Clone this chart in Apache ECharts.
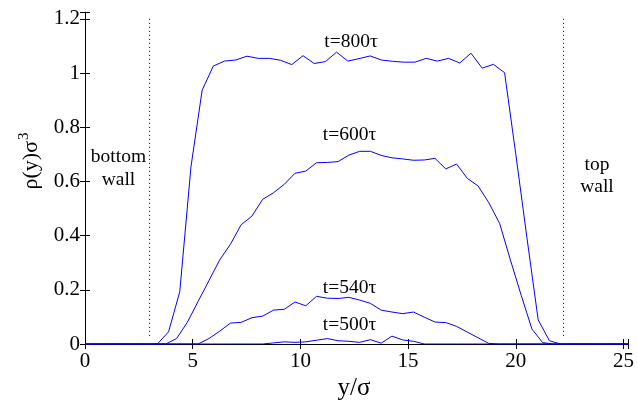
<!DOCTYPE html>
<html>
<head>
<meta charset="utf-8">
<script src="https://cdn.jsdelivr.net/npm/echarts@6/dist/echarts.min.js"></script>
<style>
  html, body { margin: 0; padding: 0; background: #fff; }
  #chart { width: 637px; height: 401px; }
</style>
</head>
<body>
<div id="chart"></div>
<script>
// Density profiles rho(y) across the channel at several times.
// Positions (in units of sigma) at which the profile at t=800 tau was sampled
const pos800 = [0, 0.24, 0.76, 1.28, 1.80, 2.32, 2.84, 3.36, 3.88, 4.40, 4.92, 5.44, 5.96, 6.48,
  7.00, 7.52, 8.04, 8.56, 9.08, 9.60, 10.12, 10.64, 11.16, 11.68, 12.20, 12.72, 13.24, 13.76,
  14.28, 14.80, 15.32, 15.84, 16.36, 16.88, 17.40, 17.92, 18.44, 18.96, 19.48, 20.00, 20.52,
  21.04, 21.56, 22.08, 22.60, 23.12, 23.64, 24.16, 24.68, 25.20];
const rho800 = [0, 0, 0, 0, 0, 0, 0, 0,
  0.045, 0.193, 0.654, 0.937, 1.026, 1.044, 1.048, 1.062, 1.054, 1.054,
  1.047, 1.031, 1.064, 1.035, 1.042, 1.077, 1.044, 1.053, 1.063, 1.048,
  1.043, 1.040, 1.040, 1.054, 1.044, 1.054, 1.037, 1.073, 1.018, 1.032,
  1.001, 0.700, 0.390, 0.089, 0.012,
  0, 0, 0, 0, 0, 0, 0];

// Positions shared by the t=600, 540 and 500 tau profiles
const posB = [0, 0.25, 0.75, 1.25, 1.75, 2.25, 2.75, 3.25, 3.75, 4.25, 4.75, 5.25, 5.75, 6.25,
  6.75, 7.25, 7.75, 8.25, 8.75, 9.25, 9.75, 10.25, 10.75, 11.25, 11.75, 12.25, 12.75, 13.25,
  13.75, 14.25, 14.75, 15.25, 15.75, 16.25, 16.75, 17.25, 17.75, 18.25, 18.75, 19.25, 19.75,
  20.25, 20.75, 21.25, 21.75, 22.25, 22.75, 23.25, 23.75, 24.25, 24.75, 25.20];
const rho600 = [0, 0, 0, 0, 0, 0, 0, 0, 0,
  0.020, 0.080, 0.157, 0.233, 0.310, 0.368, 0.440, 0.472, 0.534, 0.558,
  0.589, 0.630, 0.638, 0.669, 0.670, 0.673, 0.697, 0.711, 0.711, 0.696,
  0.687, 0.683, 0.678, 0.679, 0.685, 0.646, 0.664, 0.611, 0.583, 0.521,
  0.445, 0.310, 0.180, 0.055, 0.005,
  0, 0, 0, 0, 0, 0, 0, 0];
const rho540 = [0, 0, 0, 0, 0, 0, 0, 0, 0, 0, 0, 0,
  0.020, 0.047, 0.077, 0.080, 0.097, 0.103, 0.125, 0.128, 0.155, 0.141,
  0.176, 0.169, 0.168, 0.172, 0.162, 0.150, 0.125, 0.118, 0.112, 0.118,
  0.099, 0.081, 0.079, 0.065, 0.044, 0.023, 0.002,
  0, 0, 0, 0, 0, 0, 0, 0, 0, 0, 0, 0, 0];
const rho500 = [0, 0, 0, 0, 0, 0, 0, 0, 0, 0, 0, 0, 0, 0, 0, 0, 0, 0,
  0.004, 0.008, 0.006, 0.008, 0.014, 0.020, 0.012, 0.010, 0.006, 0.016,
  0.003, 0.029, 0.015, 0.010,
  0, 0, 0, 0, 0, 0, 0, 0, 0, 0, 0, 0, 0, 0, 0, 0, 0, 0, 0, 0];

// Wall positions and the vertical extent of their dotted markers
const wallPos = [3.0, 22.2];
const wallSpan = [0.03, 1.2];

const xTicks = [0, 5, 10, 15, 20, 25];
const yTicks = [0, 0.2, 0.4, 0.6, 0.8, 1, 1.2];

const FONT = '"Liberation Serif", "Times New Roman", serif';
const BLUE = '#0000ff';

const pair = (xs, ys) => xs.map((x, i) => [x, ys[i]]);
const onTick = (ticks) => (v) => ticks.some(t => Math.abs(t - v) < 1e-6) ? String(v) : '';

function lineSeries(name, xs, ys, extra) {
  return Object.assign({
    name, type: 'line', data: pair(xs, ys), showSymbol: false, symbol: 'none',
    lineStyle: { color: BLUE, width: 1 }, itemStyle: { color: BLUE },
    animation: false, z: 3
  }, extra || {});
}

const axisCommon = {
  axisLine: { show: true, lineStyle: { color: '#000', width: 1 } },
  axisTick: { show: true, inside: true, length: 5, lineStyle: { color: '#000', width: 1 } },
  splitLine: { show: false }
};

const chart = echarts.init(document.getElementById('chart'), null, { renderer: 'canvas' });
chart.setOption({
  animation: false,
  backgroundColor: '#fff',
  grid: { left: 85, right: 5.5, top: 12.3, bottom: 57, containLabel: false },
  xAxis: [
    Object.assign({
      type: 'value', min: 0, max: 25.2, interval: 5, position: 'bottom',
      axisLabel: { formatter: onTick(xTicks), color: '#000', fontFamily: FONT, fontSize: 21, margin: 7 }
    }, axisCommon),
    Object.assign({
      type: 'value', min: 0, max: 25.2, interval: 5, position: 'top',
      axisLabel: { show: false }
    }, axisCommon)
  ],
  yAxis: [
    Object.assign({
      type: 'value', min: 0, max: 1.224, interval: 0.2, position: 'left',
      axisLabel: { formatter: onTick(yTicks), color: '#000', fontFamily: FONT, fontSize: 21, margin: 5 }
    }, axisCommon),
    Object.assign({
      type: 'value', min: 0, max: 1.224, interval: 0.2, position: 'right',
      axisLabel: { show: false }
    }, axisCommon)
  ],
  series: [
    lineSeries('t=500', posB, rho500, {
      markLine: {
        silent: true, symbol: 'none', animation: false,
        label: { show: false },
        lineStyle: { color: '#000', width: 1, type: [1, 3] },
        data: wallPos.map(w => [{ coord: [w, wallSpan[0]] }, { coord: [w, wallSpan[1]] }])
      }
    }),
    lineSeries('t=540', posB, rho540),
    lineSeries('t=600', posB, rho600),
    lineSeries('t=800', pos800, rho800)
  ],
  graphic: [
    { type: 'text', x: 351, y: 42, style: { text: 't=800τ', fontFamily: FONT, fontSize: 19.5, fill: '#000', align: 'center', verticalAlign: 'middle' } },
    { type: 'text', x: 349.5, y: 135, style: { text: 't=600τ', fontFamily: FONT, fontSize: 19.5, fill: '#000', align: 'center', verticalAlign: 'middle' } },
    { type: 'text', x: 349.5, y: 288, style: { text: 't=540τ', fontFamily: FONT, fontSize: 19.5, fill: '#000', align: 'center', verticalAlign: 'middle' } },
    { type: 'text', x: 349.5, y: 325, style: { text: 't=500τ', fontFamily: FONT, fontSize: 19.5, fill: '#000', align: 'center', verticalAlign: 'middle' } },
    { type: 'text', x: 118.5, y: 168.5, style: { text: 'bottom\nwall', fontFamily: FONT, fontSize: 19.5, lineHeight: 22.5, fill: '#000', align: 'center', verticalAlign: 'middle' } },
    { type: 'text', x: 597, y: 176, style: { text: 'top\nwall', fontFamily: FONT, fontSize: 19.5, lineHeight: 22, fill: '#000', align: 'center', verticalAlign: 'middle' } },
    { type: 'text', x: 354, y: 388, style: { text: 'y/σ', fontFamily: FONT, fontSize: 25, fill: '#000', align: 'center', verticalAlign: 'middle' } },
    { type: 'text', x: 31, y: 161, rotation: Math.PI / 2, style: { text: 'ρ(y)σ{s|3}', fontFamily: FONT, fontSize: 22, fill: '#000', align: 'center', verticalAlign: 'middle',
      rich: { s: { fontFamily: FONT, fontSize: 15, fill: '#000', padding: [0, 0, 14, 1] } } } }
  ]
});
</script>
</body>
</html>
